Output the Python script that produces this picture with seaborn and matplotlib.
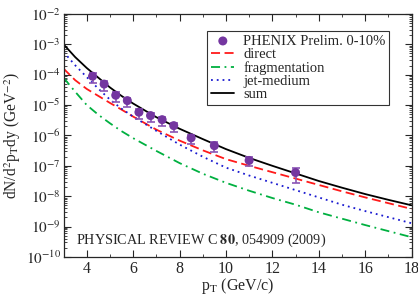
import numpy as np
import pandas as pd
import matplotlib
matplotlib.use("Agg")
import matplotlib.pyplot as plt
from matplotlib.ticker import FixedLocator, MultipleLocator, NullFormatter
import seaborn as sns

# ---- data ----
pt_curve = [3, 3.5, 4, 4.5, 5, 5.5, 6, 7, 8, 9, 10, 11, 12, 13, 14, 15, 16, 17, 18]
log_sum = [-3.00, -3.42, -3.78, -4.10, -4.42, -4.70, -4.95, -5.40, -5.78, -6.12,
           -6.45, -6.74, -7.00, -7.25, -7.50, -7.72, -7.93, -8.12, -8.30]
log_direct = [-3.80, -4.18, -4.47, -4.70, -4.93, -5.15, -5.38, -5.81, -6.17, -6.49,
              -6.78, -7.00, -7.21, -7.42, -7.63, -7.84, -8.04, -8.23, -8.42]
log_jet = [-3.25, -3.69, -4.08, -4.46, -4.82, -5.12, -5.38, -5.85, -6.30, -6.70,
           -7.06, -7.32, -7.56, -7.80, -8.04, -8.28, -8.49, -8.69, -8.89]
log_frag = [-4.10, -4.56, -5.00, -5.32, -5.60, -5.86, -6.09, -6.51, -6.91, -7.26,
            -7.56, -7.82, -8.06, -8.28, -8.53, -8.74, -8.95, -9.15, -9.35]

pt_data = [4.25, 4.75, 5.25, 5.75, 6.25, 6.75, 7.25, 7.75, 8.5, 9.5, 11.0, 13.0]
yield_data = [8.9e-5, 4.9e-5, 2.1e-5, 1.4e-5, 5.8e-6, 4.5e-6, 3.3e-6, 2.1e-6,
              8.3e-7, 4.6e-7, 1.5e-7, 6.0e-8]
err_up_dec = [0.10, 0.10, 0.10, 0.10, 0.10, 0.10, 0.10, 0.10, 0.10, 0.11, 0.12, 0.14]
err_dn_dec = [0.22, 0.22, 0.22, 0.22, 0.22, 0.22, 0.22, 0.20, 0.20, 0.20, 0.19, 0.33]

x_ticks = [4, 6, 8, 10, 12, 14, 16, 18]
y_exponents = [-10, -9, -8, -7, -6, -5, -4, -3, -2]

# ---- style ----
sns.set_style("ticks")
plt.rcParams["font.family"] = ["Liberation Serif", "DejaVu Serif"]
plt.rcParams["mathtext.fontset"] = "stix"
plt.rcParams["xtick.direction"] = "in"
plt.rcParams["ytick.direction"] = "in"

fig = plt.figure(figsize=(4.18, 2.96), dpi=100)
ax = fig.add_axes([0.152, 0.132, 0.8325, 0.821])

curves = pd.DataFrame({
    "pT": pt_curve * 4,
    "val": [10 ** v for v in log_direct + log_frag + log_jet + log_sum],
    "kind": (["direct"] * len(pt_curve) + ["fragmentation"] * len(pt_curve)
             + ["jet-medium"] * len(pt_curve) + ["sum"] * len(pt_curve)),
})

styles = {
    "direct": dict(color="#ff1a1a", dashes=(5, 2.5)),
    "fragmentation": dict(color="#00b040", dashes=(5, 2.5, 1, 2.5)),
    "jet-medium": dict(color="#1a1ad0", dashes=(1, 2.2)),
    "sum": dict(color="black", dashes=None),
}

# data points
ydat = np.array(yield_data)
lo = ydat - ydat * 10 ** (-np.array(err_dn_dec))
hi = ydat * 10 ** (np.array(err_up_dec)) - ydat
ax.errorbar(pt_data, ydat, yerr=[lo, hi], fmt="none", ecolor="#8a55b5",
            elinewidth=1.2, capsize=3, capthick=1.2, zorder=3)
sns.scatterplot(x=pt_data, y=yield_data, ax=ax, color="#7436a0", s=42,
                edgecolor="none", zorder=4, label="PHENIX Prelim. 0-10%")

for kind in ["direct", "fragmentation", "jet-medium", "sum"]:
    sub = curves[curves["kind"] == kind]
    st = styles[kind]
    sns.lineplot(data=sub, x="pT", y="val", ax=ax, color=st["color"],
                 linewidth=1.3, label=kind, zorder=2)
    line = ax.lines[-1]
    if st["dashes"] is not None:
        line.set_dashes(st["dashes"])

ax.set_yscale("log")
ax.set_xlim(3, 18)
ax.set_ylim(1e-10, 1e-2)
ax.set_xticks(x_ticks)
ax.xaxis.set_minor_locator(MultipleLocator(1))
ax.set_yticks([10.0 ** e for e in y_exponents])
ax.set_yticklabels([r"$10^{%d}$" % e for e in y_exponents])
minor = [m * 10.0 ** e for e in y_exponents[:-1] for m in range(2, 10)]
ax.yaxis.set_minor_locator(FixedLocator(minor))
ax.yaxis.set_minor_formatter(NullFormatter())
ax.tick_params(which="both", top=True, right=True, labelsize=11.5, pad=3)
ax.tick_params(axis="y", which="both", labelsize=11, pad=2)
ax.tick_params(which="major", length=5, width=0.8)
ax.tick_params(which="minor", length=2.5, width=0.6)
for s in ax.spines.values():
    s.set_linewidth(0.9)

ax.set_xlabel(r"p$_{\mathrm{T}}$ (GeV/c)", fontsize=11.5, labelpad=-1)
ax.set_ylabel(r"dN/d$^{2}$p$_{\mathrm{T}}$dy (GeV$^{-2}$)", fontsize=11.2, labelpad=2)

ax.text(0.035, 0.07, r"PHYSICAL REVIEW C $\mathbf{80}$, 054909 (2009)",
        transform=ax.transAxes, fontsize=10.2, ha="left", va="center")

# legend order
handles, labels = ax.get_legend_handles_labels()
order = ["PHENIX Prelim. 0-10%", "direct", "fragmentation", "jet-medium", "sum"]
hmap = dict(zip(labels, handles))
leg = ax.legend([hmap[k] for k in order], order, loc="upper right",
                bbox_to_anchor=(0.936, 0.93), borderaxespad=0, fontsize=10.5,
                frameon=True, fancybox=False, handlelength=1.6, handletextpad=0.6,
                labelspacing=0.0, borderpad=0.25)
leg.get_frame().set_edgecolor("black")
leg.get_frame().set_linewidth(0.8)

fig.savefig("out.png", dpi=100)
